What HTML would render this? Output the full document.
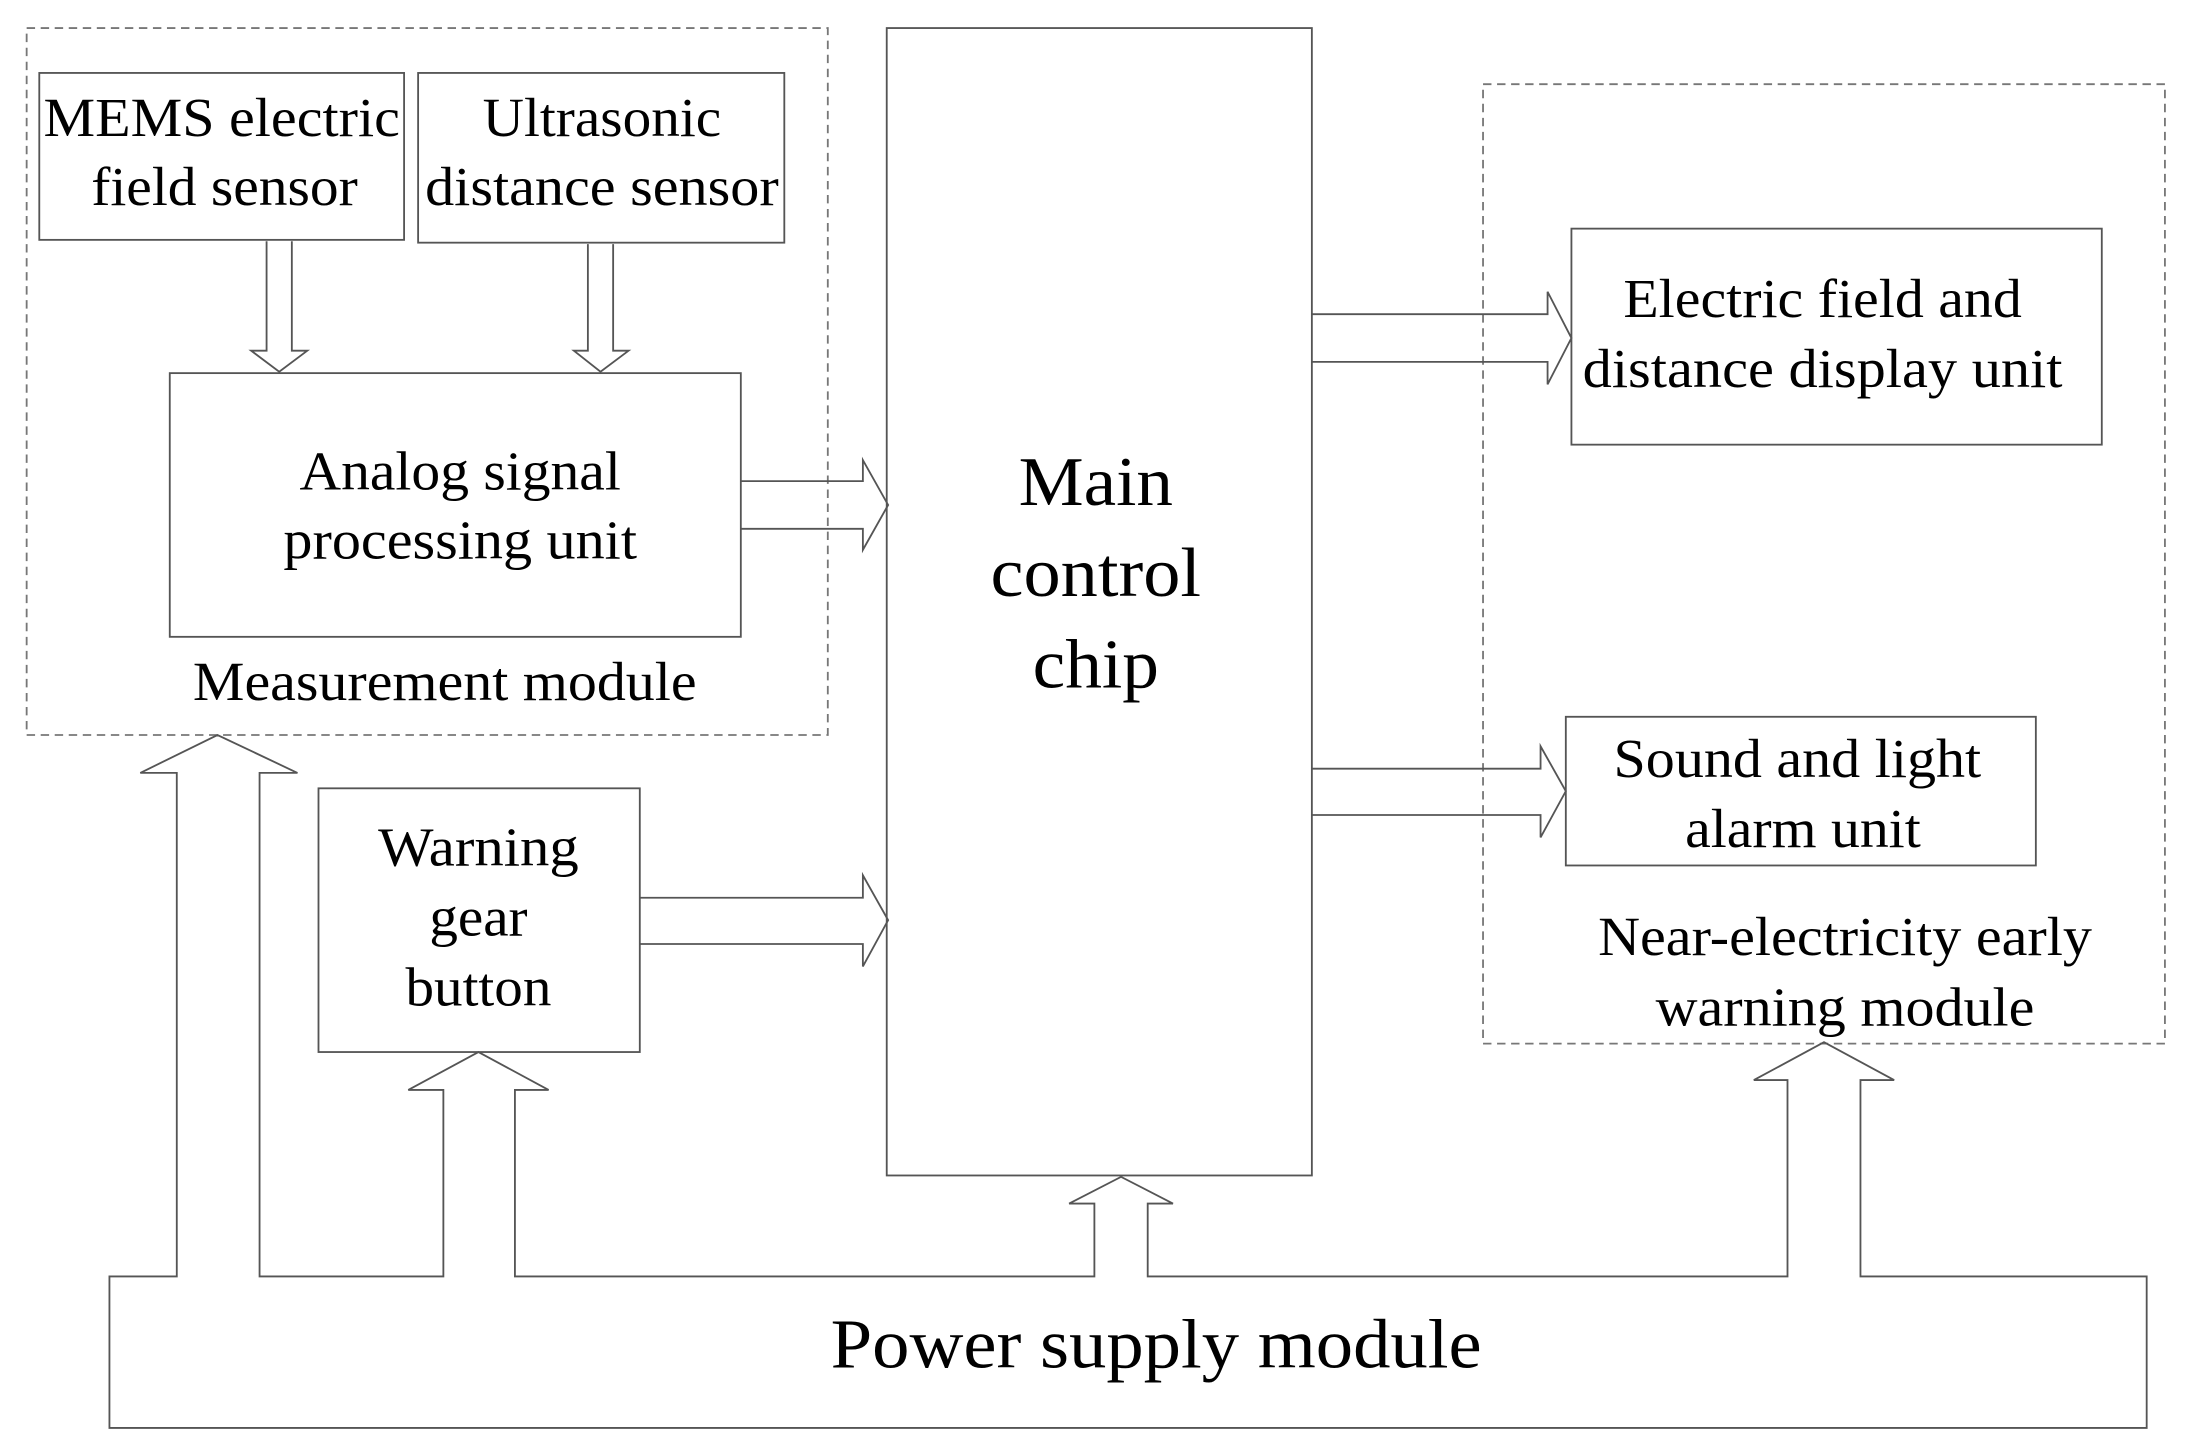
<!DOCTYPE html>
<html><head><meta charset="utf-8"><style>html,body{margin:0;padding:0;background:#fff}svg{display:block}</style></head><body>
<svg width="2200" height="1449" viewBox="0 0 1568 1033" preserveAspectRatio="none" xmlns="http://www.w3.org/2000/svg" font-family="Liberation Serif, serif" fill="none" stroke="#555" stroke-width="1.3">
<rect x="19" y="20" width="571" height="504" stroke-dasharray="6,4" stroke="#777"/>
<rect x="1057" y="60" width="486" height="684" stroke-dasharray="6,4" stroke="#777"/>
<rect x="632" y="20" width="303" height="818"/>
<rect x="28" y="52" width="260" height="119"/>
<rect x="298" y="52" width="261" height="121"/>
<rect x="121" y="266" width="407" height="188"/>
<rect x="227" y="562" width="229" height="188"/>
<rect x="1120" y="163" width="378" height="154"/>
<rect x="1116" y="511" width="335" height="106"/>
<path d="M190,172 V250 H179 L199,265 L219,250 H208 V172"/>
<path d="M419,174 V250 H409 L428,265 L448,250 H437 V174"/>
<path d="M528,343 H615 V328 L633,360 L615,392 V377 H528"/>
<path d="M456,640 H615 V624 L633,656 L615,689 V673 H456"/>
<path d="M935,224 H1103 V208 L1120,241 L1103,274 V258 H935"/>
<path d="M935,548 H1098 V532 L1116,564 L1098,597 V581 H935"/>
<path d="M78,1018 V910 H126 V551 H100 L155,524 L212,551 H185 V910 H316 V777 H291 L341,750 L391,777 H367 V910 H780 V858 H762 L799,839 L836,858 H818 V910 H1274 V770 H1250 L1300,743 L1350,770 H1326 V910 H1530 V1018 Z"/>
<g fill="#000" stroke="none" font-size="39" text-anchor="middle">
<text x="158" y="97" textLength="254" lengthAdjust="spacingAndGlyphs">MEMS electric</text>
<text x="160" y="146" textLength="190" lengthAdjust="spacingAndGlyphs">field sensor</text>
<text x="429" y="97" textLength="170" lengthAdjust="spacingAndGlyphs">Ultrasonic</text>
<text x="429" y="146" textLength="252" lengthAdjust="spacingAndGlyphs">distance sensor</text>
<text x="328" y="349" textLength="229" lengthAdjust="spacingAndGlyphs">Analog signal</text>
<text x="328" y="398" textLength="252" lengthAdjust="spacingAndGlyphs">processing unit</text>
<text x="317" y="499" textLength="359" lengthAdjust="spacingAndGlyphs">Measurement module</text>
<text x="341" y="617" textLength="143" lengthAdjust="spacingAndGlyphs">Warning</text>
<text x="341" y="667" textLength="70" lengthAdjust="spacingAndGlyphs">gear</text>
<text x="341" y="717" textLength="104" lengthAdjust="spacingAndGlyphs">button</text>
<text x="1299" y="226" textLength="284" lengthAdjust="spacingAndGlyphs">Electric field and</text>
<text x="1299" y="276" textLength="342" lengthAdjust="spacingAndGlyphs">distance display unit</text>
<text x="1281" y="554" textLength="262" lengthAdjust="spacingAndGlyphs">Sound and light</text>
<text x="1285" y="604" textLength="168" lengthAdjust="spacingAndGlyphs">alarm unit</text>
<text x="1315" y="681" textLength="352" lengthAdjust="spacingAndGlyphs">Near-electricity early</text>
<text x="1315" y="731" textLength="270" lengthAdjust="spacingAndGlyphs">warning module</text>
<text x="781" y="360" font-size="50" textLength="110" lengthAdjust="spacingAndGlyphs">Main</text>
<text x="781" y="425" font-size="50" textLength="150" lengthAdjust="spacingAndGlyphs">control</text>
<text x="781" y="490" font-size="50" textLength="90" lengthAdjust="spacingAndGlyphs">chip</text>
<text x="824" y="975" font-size="50" textLength="464" lengthAdjust="spacingAndGlyphs">Power supply module</text>
</g>
</svg>
</body></html>
